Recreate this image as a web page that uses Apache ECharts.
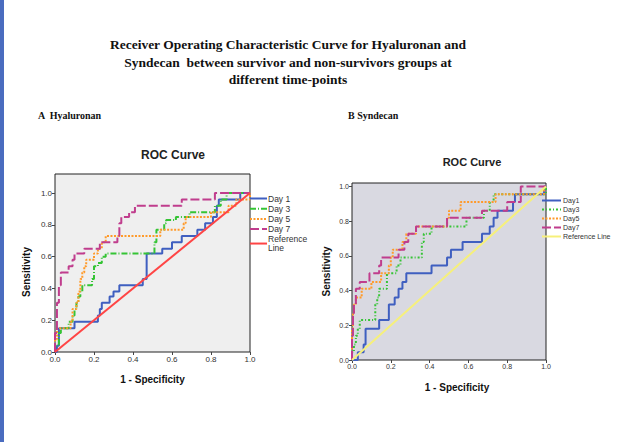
<!DOCTYPE html>
<html>
<head>
<meta charset="utf-8">
<script src="https://cdn.jsdelivr.net/npm/echarts@6/dist/echarts.min.js"></script>
<style>
html, body { margin: 0; padding: 0; background: #fff; }
#chart { width: 642px; height: 442px; }
</style>
</head>
<body>
<div id="chart"></div>
<script>
// tick values shared by both panels
const tickValues = [0, 0.2, 0.4, 0.6, 0.8, 1.0];
const refLine = [[0, 0], [1, 1]];

// A Hyaluronan - [1 - specificity, sensitivity]
const hyaDay1 = [[0,0],[0.01,0],[0.01,0.04],[0.02,0.04],[0.02,0.15],[0.10,0.15],[0.10,0.19],[0.22,0.19],[0.22,0.23],[0.23,0.23],[0.23,0.27],[0.24,0.27],[0.24,0.31],[0.28,0.31],[0.28,0.35],[0.30,0.35],[0.30,0.38],[0.33,0.38],[0.33,0.42],[0.45,0.42],[0.45,0.46],[0.47,0.46],[0.47,0.62],[0.55,0.62],[0.55,0.65],[0.60,0.65],[0.60,0.69],[0.65,0.69],[0.65,0.73],[0.73,0.73],[0.73,0.77],[0.77,0.77],[0.77,0.81],[0.81,0.81],[0.81,0.85],[0.83,0.85],[0.83,0.92],[0.84,0.92],[0.84,0.96],[0.95,0.96],[0.95,1],[1,1]];
const hyaDay3 = [[0,0],[0,0.04],[0.02,0.04],[0.02,0.12],[0.03,0.12],[0.03,0.15],[0.07,0.15],[0.07,0.19],[0.09,0.19],[0.09,0.23],[0.10,0.23],[0.10,0.27],[0.11,0.27],[0.11,0.31],[0.12,0.31],[0.12,0.35],[0.13,0.35],[0.13,0.38],[0.14,0.38],[0.14,0.42],[0.19,0.42],[0.19,0.46],[0.20,0.46],[0.20,0.54],[0.22,0.54],[0.22,0.56],[0.24,0.56],[0.24,0.60],[0.26,0.60],[0.26,0.62],[0.51,0.62],[0.51,0.69],[0.52,0.69],[0.52,0.77],[0.56,0.77],[0.56,0.81],[0.57,0.81],[0.57,0.83],[0.62,0.83],[0.62,0.85],[0.69,0.85],[0.69,0.88],[0.82,0.88],[0.82,0.92],[0.85,0.92],[0.85,0.96],[0.88,0.96],[0.88,1],[1,1]];
const hyaDay5 = [[0,0],[0,0.08],[0.01,0.08],[0.01,0.15],[0.08,0.15],[0.08,0.19],[0.09,0.19],[0.09,0.27],[0.11,0.27],[0.11,0.31],[0.12,0.31],[0.12,0.38],[0.13,0.38],[0.13,0.46],[0.14,0.46],[0.14,0.50],[0.15,0.50],[0.15,0.54],[0.16,0.54],[0.16,0.58],[0.20,0.58],[0.20,0.62],[0.22,0.62],[0.22,0.65],[0.24,0.65],[0.24,0.69],[0.26,0.69],[0.26,0.73],[0.54,0.73],[0.54,0.77],[0.66,0.77],[0.66,0.81],[0.67,0.81],[0.67,0.85],[0.80,0.85],[0.80,0.88],[0.89,0.88],[0.89,0.92],[0.93,0.92],[0.93,0.96],[1,0.96],[1,1]];
const hyaDay7 = [[0,0],[0,0.12],[0.01,0.12],[0.01,0.31],[0.02,0.31],[0.02,0.42],[0.03,0.42],[0.03,0.50],[0.07,0.50],[0.07,0.54],[0.09,0.54],[0.09,0.58],[0.10,0.58],[0.10,0.62],[0.15,0.62],[0.15,0.65],[0.23,0.65],[0.23,0.69],[0.32,0.69],[0.32,0.73],[0.33,0.73],[0.33,0.81],[0.34,0.81],[0.34,0.85],[0.38,0.85],[0.38,0.88],[0.41,0.88],[0.41,0.92],[0.65,0.92],[0.65,0.96],[0.82,0.96],[0.82,1],[1,1]];

// B Syndecan
const synDay1 = [[0,0],[0.03,0],[0.03,0.045],[0.06,0.045],[0.06,0.09],[0.07,0.09],[0.07,0.18],[0.14,0.18],[0.14,0.23],[0.19,0.23],[0.19,0.32],[0.22,0.32],[0.22,0.36],[0.24,0.36],[0.24,0.41],[0.26,0.41],[0.26,0.45],[0.28,0.45],[0.28,0.50],[0.41,0.50],[0.41,0.545],[0.49,0.545],[0.49,0.59],[0.51,0.59],[0.51,0.636],[0.57,0.636],[0.57,0.68],[0.67,0.68],[0.67,0.727],[0.71,0.727],[0.71,0.77],[0.73,0.77],[0.73,0.82],[0.75,0.82],[0.75,0.86],[0.83,0.86],[0.83,0.91],[0.84,0.91],[0.84,0.955],[0.99,0.955],[0.99,1],[1,1]];
const synDay3 = [[0,0],[0,0.045],[0.01,0.045],[0.01,0.09],[0.02,0.09],[0.02,0.14],[0.03,0.14],[0.03,0.18],[0.04,0.18],[0.04,0.23],[0.12,0.23],[0.12,0.32],[0.13,0.32],[0.13,0.36],[0.14,0.36],[0.14,0.41],[0.18,0.41],[0.18,0.5],[0.23,0.5],[0.23,0.545],[0.25,0.545],[0.25,0.59],[0.36,0.59],[0.36,0.68],[0.37,0.68],[0.37,0.727],[0.41,0.727],[0.41,0.77],[0.59,0.77],[0.59,0.82],[0.68,0.82],[0.68,0.86],[0.71,0.86],[0.71,0.91],[0.73,0.91],[0.73,0.955],[1,0.955],[1,1]];
const synDay5 = [[0,0],[0,0.18],[0.005,0.18],[0.005,0.27],[0.01,0.27],[0.01,0.32],[0.02,0.32],[0.02,0.36],[0.05,0.36],[0.05,0.41],[0.10,0.41],[0.10,0.45],[0.15,0.45],[0.15,0.5],[0.19,0.5],[0.19,0.545],[0.20,0.545],[0.20,0.59],[0.21,0.59],[0.21,0.636],[0.26,0.636],[0.26,0.68],[0.28,0.68],[0.28,0.727],[0.33,0.727],[0.33,0.77],[0.49,0.77],[0.49,0.82],[0.50,0.82],[0.50,0.86],[0.56,0.86],[0.56,0.91],[0.74,0.91],[0.74,0.955],[0.99,0.955],[0.99,1],[1,1]];
const synDay7 = [[0,0],[0,0.14],[0.005,0.14],[0.005,0.27],[0.01,0.27],[0.01,0.32],[0.02,0.32],[0.02,0.41],[0.04,0.41],[0.04,0.45],[0.09,0.45],[0.09,0.5],[0.14,0.5],[0.14,0.545],[0.15,0.545],[0.15,0.59],[0.24,0.59],[0.24,0.636],[0.27,0.636],[0.27,0.68],[0.29,0.68],[0.29,0.727],[0.33,0.727],[0.33,0.77],[0.49,0.77],[0.49,0.82],[0.67,0.82],[0.67,0.86],[0.80,0.86],[0.80,0.91],[0.87,0.91],[0.87,1],[1,1]];

const leftNames = ['Day 1', 'Day 3', 'Day 5', 'Day 7', 'Reference\nLine'];
const rightNames = ['Day1', 'Day3', 'Day5', 'Day7', 'Reference Line'];

const BLUE = '#3f5fc0', GREEN = '#35c435', ORANGE = '#ff9a2a', MAGENTA = '#c03d8d';

function line(name, data, color, dash, idx) {
  return {
    name: name, type: 'line', data: data,
    xAxisIndex: idx, yAxisIndex: idx,
    symbol: 'none', animation: false, silent: true,
    lineStyle: { color: color, width: 2, type: dash },
    itemStyle: { color: color }
  };
}

function xAx(idx, fs, gap, pad) {
  return {
    type: 'value', gridIndex: idx, min: 0, max: 1, interval: 0.2,
    name: '1 - Specificity', nameLocation: 'middle', nameGap: gap,
    nameTextStyle: { fontFamily: 'Liberation Sans', fontWeight: 'bold', fontSize: 10, color: '#111', padding: pad },
    axisLine: { show: false },
    axisTick: { show: true, length: 3, lineStyle: { color: '#444' } },
    splitLine: { show: false },
    axisLabel: { fontFamily: 'Liberation Sans', fontSize: fs, color: '#333', margin: 3,
      formatter: v => v.toFixed(1) }
  };
}

function yAx(idx, max, fs, gap, pad) {
  return {
    type: 'value', gridIndex: idx, min: 0, max: max,
    name: 'Sensitivity', nameLocation: 'middle', nameGap: gap,
    nameTextStyle: { fontFamily: 'Liberation Sans', fontWeight: 'bold', fontSize: 10, color: '#111', padding: pad },
    axisLine: { show: false },
    axisTick: { show: true, length: 3, customValues: tickValues, lineStyle: { color: '#444' } },
    splitLine: { show: false },
    axisLabel: { fontFamily: 'Liberation Sans', fontSize: fs, color: '#333', margin: 3,
      customValues: tickValues, formatter: v => v.toFixed(1) }
  };
}

const chart = echarts.init(document.getElementById('chart'), null, { renderer: 'svg' });
chart.setOption({
  backgroundColor: '#fff',
  animation: false,
  graphic: [{ type: 'rect', shape: { x: 0, y: 0, width: 4, height: 442 }, style: { fill: '#4a6cbf' } }],
  title: [
    { text: 'Receiver Operating Characteristic Curve for Hyaluronan and\nSyndecan  between survivor and non-survivors groups at\ndifferent time-points',
      left: 283, top: 31, textAlign: 'center',
      textStyle: { fontFamily: 'Liberation Serif', fontWeight: 'bold', fontSize: 13.5, lineHeight: 17.5, color: '#111' } },
    { text: 'A  Hyaluronan', left: 33, top: 105,
      textStyle: { fontFamily: 'Liberation Serif', fontWeight: 'bold', fontSize: 10, color: '#111' } },
    { text: 'B Syndecan', left: 343, top: 105,
      textStyle: { fontFamily: 'Liberation Serif', fontWeight: 'bold', fontSize: 10, color: '#111' } },
    { text: 'ROC Curve', left: 168, top: 144, textAlign: 'center',
      textStyle: { fontFamily: 'Liberation Sans', fontWeight: 'bold', fontSize: 12, color: '#222' } },
    { text: 'ROC Curve', left: 467, top: 151, textAlign: 'center',
      textStyle: { fontFamily: 'Liberation Sans', fontWeight: 'bold', fontSize: 11, color: '#222' } }
  ],
  legend: [
    { data: leftNames, orient: 'vertical', left: 249, top: 194, itemWidth: 17, itemHeight: 8, itemGap: 1.2,
      padding: 0, itemStyle: { opacity: 0 },
      textStyle: { fontFamily: 'Liberation Sans', fontSize: 8.5, color: '#333', lineHeight: 8.5, padding: [0, 0, 0, -4] } },
    { data: rightNames, orient: 'vertical', left: 541, top: 197, itemWidth: 19, itemHeight: 8, itemGap: 2,
      padding: 0, itemStyle: { opacity: 0 },
      textStyle: { fontFamily: 'Liberation Sans', fontSize: 7, color: '#333', padding: [0, 0, 0, -3] } }
  ],
  grid: [
    { left: 55, top: 174, width: 195, height: 178, show: true, backgroundColor: '#efefef', borderColor: '#222', borderWidth: 1 },
    { left: 352, top: 183, width: 194, height: 177, show: true, backgroundColor: '#d9d9e1', borderColor: '#222', borderWidth: 1 }
  ],
  xAxis: [xAx(0, 8, 22, [0, 0, 0, 0]), xAx(1, 7, 22, [0, 0, 0, 16])],
  yAxis: [yAx(0, 1.12, 8, 24, [0, 18, 0, 0]), yAx(1, 1.02, 7, 21, [0, 0, 0, 0])],
  series: [
    line('Day 1', hyaDay1, BLUE, 'solid', 0),
    line('Day 3', hyaDay3, GREEN, [6, 2, 1, 2], 0),
    line('Day 5', hyaDay5, ORANGE, [2, 1.5], 0),
    line('Day 7', hyaDay7, MAGENTA, [9, 3], 0),
    line('Reference\nLine', refLine, '#ff4545', 'solid', 0),
    line('Day1', synDay1, BLUE, 'solid', 1),
    line('Day3', synDay3, GREEN, [2, 2, 1, 2], 1),
    line('Day5', synDay5, ORANGE, [2, 1.5], 1),
    line('Day7', synDay7, MAGENTA, [9, 3], 1),
    line('Reference Line', refLine, '#f6f07a', 'solid', 1)
  ]
});
</script>
</body>
</html>
